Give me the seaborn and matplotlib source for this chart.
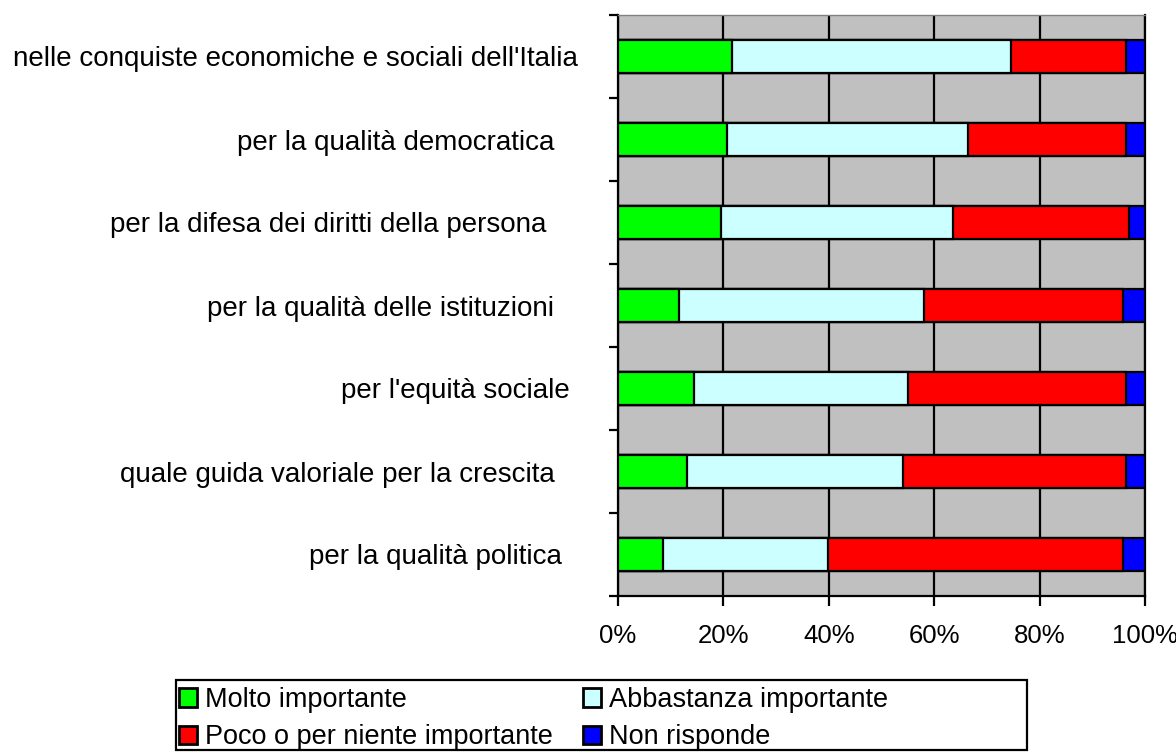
import matplotlib
matplotlib.use("Agg")
import matplotlib.pyplot as plt
import seaborn as sns
import numpy as np
import pandas as pd
from matplotlib.patches import Rectangle, Patch
from matplotlib.ticker import FixedLocator

categories = [
    "nelle conquiste economiche e sociali dell'Italia",
    "per la qualità democratica   ",
    "per la difesa dei diritti della persona    ",
    "per la qualità delle istituzioni   ",
    "per l'equità sociale ",
    "quale guida valoriale per la crescita   ",
    "per la qualità politica  ",
]
molto = [21.6, 20.6, 19.6, 11.6, 14.5, 13.1, 8.6]
abbastanza = [53.0, 45.9, 43.9, 46.4, 40.5, 40.9, 31.2]
poco = [21.8, 29.9, 33.4, 37.9, 41.4, 42.4, 56.1]
non_risponde = [3.6, 3.6, 3.1, 4.1, 3.6, 3.6, 4.1]
series_names = ["Molto importante", "Abbastanza importante",
                "Poco o per niente importante", "Non risponde"]
xtick_values = [0, 20, 40, 60, 80, 100]
xtick_labels = ["0%", "20%", "40%", "60%", "80%", "100%"]

colors = ["#00FF00", "#CCFFFF", "#FF0000", "#0000FF"]

sns.set_theme(style="white")
plt.rcParams["font.family"] = ["Liberation Sans", "DejaVu Sans"]
plt.rcParams["text.color"] = "black"

fig = plt.figure(figsize=(11.76, 7.54), dpi=100)
ax = fig.add_axes([618 / 1176, 1 - 596 / 754, (1145 - 618) / 1176, (596 - 15) / 754])
ax.set_facecolor("#C0C0C0")

df = pd.DataFrame({"cat": categories, series_names[0]: molto, series_names[1]: abbastanza,
                   series_names[2]: poco, series_names[3]: non_risponde})
cum = df[series_names].cumsum(axis=1)

# draw from the longest cumulative to the shortest so each segment shows
for name, col in reversed(list(zip(series_names, colors))):
    sns.barplot(x=cum[name], y=df["cat"], color=col, orient="h", width=0.39,
                edgecolor="black", linewidth=1.6, saturation=1, ax=ax, zorder=3)

ax.set_xlim(0, 100)
ax.set_ylim(len(categories) - 0.5, -0.5)
ax.set_xlabel("")
ax.set_ylabel("")

ax.set_xticks(xtick_values)
ax.set_xticklabels(xtick_labels, fontsize=18.5)
ax.set_yticks(range(len(categories)))
ax.set_yticklabels(categories, fontsize=20)
ax.yaxis.set_minor_locator(FixedLocator(np.arange(-0.5, len(categories), 1.0)))
ax.tick_params(axis="y", which="major", length=0, pad=29)
ax.tick_params(axis="y", which="minor", left=True, length=6.5, width=1.6, color="black")
ax.tick_params(axis="x", which="major", bottom=True, length=7, width=1.6, color="black", pad=13)

ax.grid(axis="x", color="black", linewidth=1.6)
ax.grid(axis="y", visible=False)
ax.set_axisbelow(True)
for s in ["left", "bottom"]:
    ax.spines[s].set_color("black")
    ax.spines[s].set_linewidth(1.6)
ax.spines["top"].set_color("#808080")
ax.spines["top"].set_linewidth(1)
ax.spines["right"].set_color("black")
ax.spines["right"].set_linewidth(1.6)
for t in ax.get_yticklabels() + ax.get_xticklabels():
    t.set_color("black")

# legend
handles = [Patch(facecolor=c, edgecolor="black", linewidth=2) for c in colors]
order = [0, 2, 1, 3]
leg = fig.legend([handles[i] for i in order], [series_names[i] for i in order],
                 loc="upper left", bbox_to_anchor=(179 / 1176, 1 - 687 / 754),
                 ncol=2, frameon=False, fontsize=19.5, handlelength=0.66, handleheight=0.66,
                 handletextpad=0.3, columnspacing=1.1, labelspacing=0.42, borderpad=0,
                 borderaxespad=0, labelcolor="black")
fig.add_artist(Rectangle((176 / 1176, 1 - 750 / 754), (1027 - 176) / 1176, 70 / 754,
                         transform=fig.transFigure, fill=False, edgecolor="black",
                         linewidth=1.6))

fig.savefig("out.png", dpi=100)
